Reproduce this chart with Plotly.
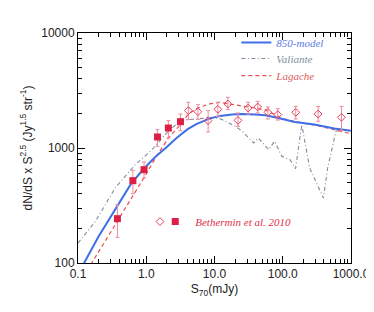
import plotly.graph_objects as go

# ---- data ----
model_x = [0.1, 0.123, 0.2, 0.3, 0.4, 0.6, 0.9, 1.34, 2.0, 2.78, 4.0, 5.5, 8.4, 12, 18, 25, 40, 55, 80, 150, 290, 570, 1000]
model_y = [78, 100, 170, 250, 325, 490, 650, 830, 1020, 1220, 1450, 1620, 1800, 1900, 1960, 1976, 1960, 1923, 1840, 1683, 1600, 1480, 1414]

val_x = [0.1, 0.18, 0.35, 0.69, 1.15, 1.34, 2.1, 3.0, 3.5, 5.0, 9.4, 12, 14.7, 20, 25.5, 37.6, 44, 62, 76, 97, 127, 154, 190, 248, 394, 455, 601, 750, 1000]
val_y = [149, 230, 449, 716, 936, 1035, 1400, 1680, 1750, 1780, 1849, 1800, 1707, 1550, 1397, 1105, 1222, 967, 1144, 847, 795, 661, 1595, 670, 367, 670, 1397, 1443, 1420]

lag_x = [0.154, 0.354, 0.86, 1.46, 2.11, 3.17, 4.14, 5.7, 8.4, 11.7, 25.5, 55, 100, 150, 300, 570, 1000]
lag_y = [97, 215, 513, 875, 1222, 1595, 1976, 2228, 2416, 2497, 2305, 2154, 1800, 1700, 1580, 1440, 1330]

sq_x = [0.378, 0.637, 0.928, 1.46, 2.11, 3.17]
sq_y = [243, 520, 648, 1247, 1492, 1694]
sq_hi = [321, 640, 755, 1443, 1728, 1975]
sq_lo = [167, 401, 548, 1033, 1222, 1415]

di_x = [4.14, 5.71, 8.06, 11.2, 15.7, 22.1, 31.1, 43.0, 60.6, 84.5, 155, 330, 725]
di_y = [2112, 2069, 1728, 2170, 2413, 1740, 2228, 2274, 2043, 1950, 2043, 1975, 1849]
di_hi = [2496, 2383, 2112, 2496, 2760, 2015, 2496, 2545, 2274, 2198, 2302, 2302, 2302]
di_lo = [1763, 1775, 1378, 1885, 2153, 1543, 1975, 2015, 1788, 1751, 1788, 1706, 1415]

x_ticks = [0.1, 1, 10, 100, 1000]
x_ticktext = ["0.1", "1.0", "10.0", "100.0", "1000.0"]
y_ticks = [100, 1000, 10000]
y_ticktext = ["100", "1000", "10000"]
x_minor = [m * d for d in (0.1, 1, 10, 100) for m in range(2, 10)]
y_minor = [m * d for d in (100, 1000) for m in range(2, 10)]

BLUE = "#3f6fe6"
GRAY = "#7d8c9c"
RED_D = "#ea4f52"
RED = "#dc1f45"
ERR = "#ef8a9a"

fig = go.Figure()

fig.add_trace(go.Scatter(x=val_x, y=val_y, mode="lines",
                         line=dict(color=GRAY, width=1.1, dash="4px,2.5px,1px,2.5px"),
                         name="<i><span style='color:#8090a0'>Valiante</span></i>", legend="legend3"))
fig.add_trace(go.Scatter(x=lag_x, y=lag_y, mode="lines",
                         line=dict(color=RED_D, width=1.2, dash="4px,3px"),
                         name="<i><span style='color:#e0605a'>Lagache</span></i>", legend="legend4"))
fig.add_trace(go.Scatter(x=model_x, y=model_y, mode="lines", line=dict(color=BLUE, width=2),
                         name="<i><span style='color:#5a7de8'>850-model</span></i>", legend="legend2"))

fig.add_trace(go.Scatter(
    x=sq_x, y=sq_y, mode="markers",
    marker=dict(symbol="square", size=7, color=RED),
    error_y=dict(type="data", symmetric=False,
                 array=[h - v for h, v in zip(sq_hi, sq_y)],
                 arrayminus=[v - l for l, v in zip(sq_lo, sq_y)],
                 color=ERR, thickness=1, width=2),
    name="<i><span style='color:#e0304a'>Bethermin et al. 2010</span></i>", legend="legend6"))
fig.add_trace(go.Scatter(
    x=di_x, y=di_y, mode="markers",
    marker=dict(symbol="diamond-open", size=6, color="#e8405c", line=dict(width=1)),
    error_y=dict(type="data", symmetric=False,
                 array=[h - v for h, v in zip(di_hi, di_y)],
                 arrayminus=[v - l for l, v in zip(di_lo, di_y)],
                 color=ERR, thickness=1, width=2),
    name="\u200b", legend="legend5"))

axis_common = dict(
    type="log", showline=True, linecolor="black", linewidth=1, mirror="allticks",
    ticks="inside", ticklen=7, tickcolor="black", showgrid=False, zeroline=False,
    tickfont=dict(family="Liberation Sans, Arial", size=12, color="#222"),
)

def leg(x, y, size=11):
    return dict(x=x, y=y, xanchor="left", yanchor="middle", bgcolor="rgba(0,0,0,0)",
                font=dict(family="Liberation Serif, serif", size=size), itemwidth=30)

fig.update_layout(
    width=374, height=312,
    margin=dict(l=70, r=27, t=25, b=57),
    paper_bgcolor="white", plot_bgcolor="white",
    showlegend=True,
    xaxis=dict(axis_common, range=[-1, 3], tickvals=x_ticks, ticktext=x_ticktext,
               minor=dict(ticks="inside", ticklen=4, tickcolor="black", showgrid=False, tickvals=x_minor),
               title=dict(text="S<sub>70</sub>(mJy)", font=dict(family="Liberation Sans, Arial", size=12, color="#222"),
                          standoff=4)),
    yaxis=dict(axis_common, range=[2, 4], tickvals=y_ticks, ticktext=y_ticktext,
               minor=dict(ticks="inside", ticklen=4, tickcolor="black", showgrid=False, tickvals=y_minor),
               title=dict(text="dN/dS x S<sup>2.5</sup> (Jy<sup>1.5</sup> str<sup>-1</sup>)",
                          font=dict(family="Liberation Sans, Arial", size=12, color="#222"), standoff=6)),
    legend2=leg(0.58, 0.959),
    legend3=leg(0.58, 0.889),
    legend4=leg(0.58, 0.815),
    legend5=leg(0.227, 0.18, 11),
    legend6=leg(0.283, 0.18, 11),
)

fig.write_html("out.html")
